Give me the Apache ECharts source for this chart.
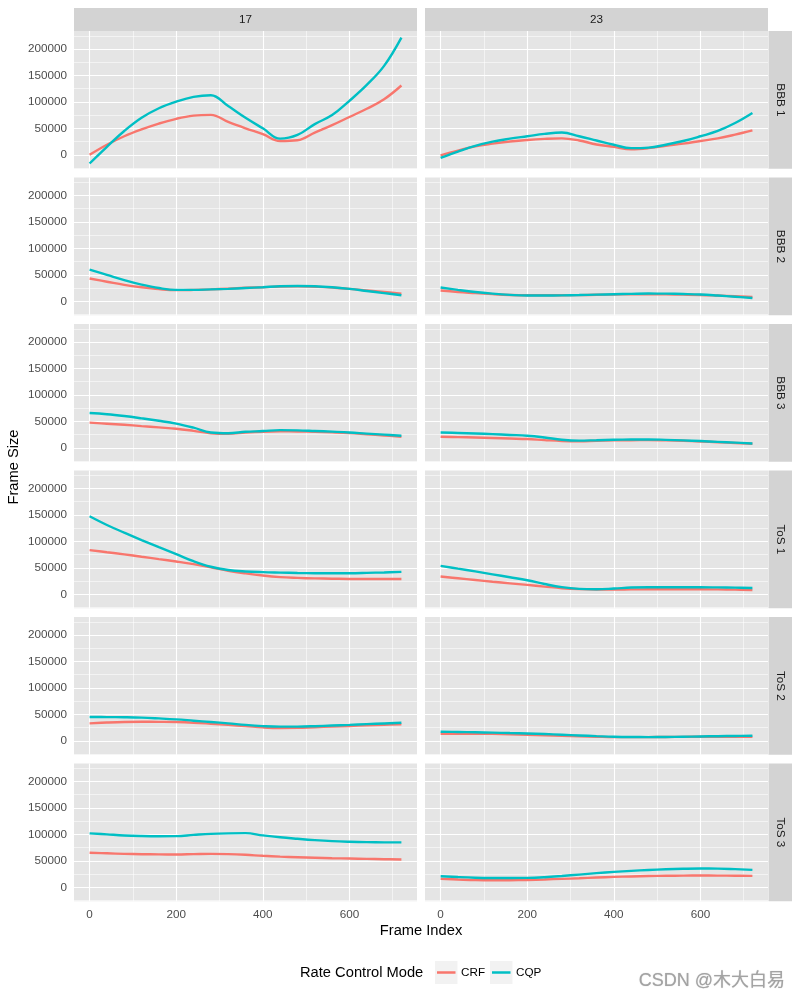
<!DOCTYPE html>
<html><head><meta charset="utf-8">
<script src="https://cdn.jsdelivr.net/npm/echarts@6/dist/echarts.min.js"></script>
<style>html,body{margin:0;padding:0;background:#fff}#c{width:800px;height:1000px}</style>
</head><body><div id="c"></div>
<script>
// ---- data ----
const frames = [0,40,80,120,160,200,240,280,320,360,400,440,480,520,560,600,640,680,720];
const columns = ['17','23'];
const rows = ['BBB 1','BBB 2','BBB 3','ToS 1','ToS 2','ToS 3'];
const modes = ['CRF','CQP'];
const yTicks = [0,50000,100000,150000,200000];
const yMinor = [-25000,25000,75000,125000,175000,225000];
const xTicks = [0,200,400,600];
const xMinor = [100,300,500,700];

const CRF_17_BBB1 = [0,19000,35000,48000,59000,68000,74000,75500,62000,50000,39000,26000,27500,42000,56000,71500,87000,105000,131000];
const CQP_17_BBB1 = [-16500,15000,45000,70000,88000,100500,109500,112500,92000,70000,50000,30500,37500,58000,75000,102000,132000,168000,221500];
const CRF_23_BBB1 = [-1000,8000,16000,21000,25000,28000,30000,31000,27000,19500,15000,10500,12500,17000,21000,26000,31000,38000,46000];
const CQP_23_BBB1 = [-6000,6000,17000,25000,30500,35000,39500,42000,35000,27000,19000,12500,13500,19000,26000,35000,45000,60000,79000];

const CRF_17_BBB2 = [43000,37000,31000,26500,23000,21000,21500,22500,24000,25500,26600,28000,28500,27500,26000,23400,20500,17500,14500];
const CQP_17_BBB2 = [60000,50000,40000,31500,25000,21500,21500,22500,23500,25000,26600,28500,29000,28500,26500,23400,19500,15500,11500];
const CRF_23_BBB2 = [20300,17500,15500,13500,12000,11400,11400,11400,11700,12300,12700,13200,13300,13000,12600,12000,10800,9500,8200];
const CQP_23_BBB2 = [26000,21500,17500,14500,12200,10800,10900,11200,11800,12600,13300,14000,14600,14400,13700,12700,10800,8600,6300];

const CRF_17_BBB3 = [47500,45500,43500,41000,38500,36000,32000,27500,26500,28800,30400,31000,30800,30200,29200,27800,25500,23200,20900];
const CQP_17_BBB3 = [65800,63500,60000,55700,51000,45600,38000,29000,27500,30300,31600,33300,33000,31800,30500,29000,26800,24800,22800];
const CRF_23_BBB3 = [20900,20200,19400,18500,17500,16500,14500,12800,12300,13200,14000,14300,14500,14000,13200,12000,10500,9000,7600];
const CQP_23_BBB3 = [29000,28000,27000,25800,24300,22800,19500,15200,13500,14300,15200,15600,15800,15000,14000,12700,11200,9700,8200];

const CRF_17_ToS1 = [83500,79500,75500,71000,66500,62000,57000,51000,44500,39500,35400,32500,31000,30000,29500,29000,29000,29000,29000];
const CQP_17_ToS1 = [147500,131000,116500,102500,89000,76000,62500,52000,46000,43200,41800,41000,40300,39900,39800,39900,40500,41300,42400];
const CRF_23_ToS1 = [33500,30200,27000,23800,20700,17700,14500,11500,9800,9000,8900,9200,9400,9500,9500,9500,9200,8800,8200];
const CQP_23_ToS1 = [53800,48500,43200,37700,32200,26600,19500,13500,10200,9400,10800,12700,13300,13300,13300,13300,13000,12600,12000];

const CRF_17_ToS2 = [33000,34500,35600,36000,35800,35400,34200,32200,30000,27800,25300,24200,24500,25700,26800,28000,29200,30200,31000];
const CQP_17_ToS2 = [45000,44800,44500,43800,42300,40500,38000,35500,33000,30000,27800,26700,26800,27600,28800,30000,31500,32800,34200];
const CRF_23_ToS2 = [13300,13400,13400,13000,12300,11400,10400,9400,8500,7700,7000,6900,7000,7200,7400,7600,7600,7600,7600];
const CQP_23_ToS2 = [17100,16700,16100,15400,14600,13900,12700,11400,10100,8800,7600,7100,7000,7200,7700,8200,8700,9100,9500];

const CRF_17_ToS3 = [65200,64200,63200,62500,62200,62000,62600,63200,62700,61400,59500,58000,56800,55800,55000,54400,53700,53100,52500];
const CQP_17_ToS3 = [102000,100000,98000,97000,96600,96800,99000,101000,102000,102300,98100,94500,91700,89200,87300,86100,85300,84900,84800];
const CRF_23_ToS3 = [15800,14700,13700,13300,13400,13900,14800,15900,17000,18400,19600,20500,21200,21700,22000,22200,22100,21800,21500];
const CQP_23_ToS3 = [20900,19300,18100,17600,17500,17700,19000,21300,24000,26700,29100,31000,32700,34000,34900,35400,35300,34300,32900];

const panelData = [
  [[CRF_17_BBB1, CQP_17_BBB1], [CRF_23_BBB1, CQP_23_BBB1]],
  [[CRF_17_BBB2, CQP_17_BBB2], [CRF_23_BBB2, CQP_23_BBB2]],
  [[CRF_17_BBB3, CQP_17_BBB3], [CRF_23_BBB3, CQP_23_BBB3]],
  [[CRF_17_ToS1, CQP_17_ToS1], [CRF_23_ToS1, CQP_23_ToS1]],
  [[CRF_17_ToS2, CQP_17_ToS2], [CRF_23_ToS2, CQP_23_ToS2]],
  [[CRF_17_ToS3, CQP_17_ToS3], [CRF_23_ToS3, CQP_23_ToS3]]
];

// ---- layout / style ----
const FONT = "'Liberation Sans', Arial, sans-serif";
const colors = ['#F8766D', '#00BFC4'];
const PANEL_BG = '#E5E5E5';
const STRIP_BG = '#D3D3D3';
const colLeft = [74, 425];
const panelW = 343;
const rowTop0 = 31, rowStep = 146.5, panelH = 137.8;

const grids = [], xAxes = [], yAxes = [], series = [], graphics = [];
const zip = (xs, ys) => xs.map((x, i) => [x, ys[i]]);

const gridMarks = [].concat(
  yTicks.map(v => ({ yAxis: v, lineStyle: { color: '#fff', width: 1.1, type: 'solid' } })),
  yMinor.map(v => ({ yAxis: v, lineStyle: { color: '#fff', width: 0.55, type: 'solid' } })),
  xTicks.map(v => ({ xAxis: v, lineStyle: { color: '#fff', width: 1.1, type: 'solid' } })),
  xMinor.map(v => ({ xAxis: v, lineStyle: { color: '#fff', width: 0.55, type: 'solid' } }))
);

let gi = 0;
rows.forEach((rowName, r) => {
  columns.forEach((colName, c) => {
    const top = rowTop0 + r * rowStep;
    grids.push({ left: colLeft[c], top: top, width: panelW, height: panelH,
      show: true, backgroundColor: PANEL_BG, borderWidth: 0, containLabel: false });
    const bottomRow = r === rows.length - 1;
    xAxes.push({ gridIndex: gi, type: 'value', min: -36, max: 756,
      splitLine: { show: false }, axisLine: { show: false },
      axisTick: { show: bottomRow, customValues: xTicks, length: 4, lineStyle: { color: '#333', width: 1 } },
      axisLabel: { show: bottomRow, customValues: xTicks, color: '#4D4D4D', fontSize: 11.7, fontFamily: FONT, margin: 7,
        formatter: v => String(v) } });
    yAxes.push({ gridIndex: gi, type: 'value', min: -26500, max: 234000,
      splitLine: { show: false }, axisLine: { show: false },
      axisTick: { show: c === 0, customValues: yTicks, length: 4, lineStyle: { color: '#333', width: 1 } },
      axisLabel: { show: c === 0, customValues: yTicks, color: '#4D4D4D', fontSize: 11.7, fontFamily: FONT, margin: 7,
        formatter: v => String(v) } });
    series.push({ type: 'line', name: 'grid' + gi, xAxisIndex: gi, yAxisIndex: gi, data: [], z: 1,
      silent: true, showSymbol: false,
      markLine: { z: 1, silent: true, symbol: ['none', 'none'], label: { show: false }, animation: false,
        emphasis: { disabled: true }, data: gridMarks } });
    modes.forEach((m, k) => {
      series.push({ type: 'line', name: m, xAxisIndex: gi, yAxisIndex: gi, z: 10 + k,
        data: zip(frames, panelData[r][c][k]), smooth: 0.4, showSymbol: false, animation: false,
        lineStyle: { color: colors[k], width: 2.4 }, itemStyle: { color: colors[k] } });
    });
    // right strip
    if (c === 1) {
      graphics.push({ type: 'rect', shape: { x: 768.5, y: top, width: 23.5, height: panelH }, style: { fill: STRIP_BG }, z: 0 });
      graphics.push({ type: 'text', x: 780.5, y: top + panelH / 2, rotation: -Math.PI / 2,
        style: { text: rowName, x: 0, y: 0, align: 'center', verticalAlign: 'middle', fill: '#1A1A1A', font: '11.7px ' + FONT } });
    }
    gi++;
  });
});

// top strips
columns.forEach((colName, c) => {
  graphics.push({ type: 'rect', shape: { x: colLeft[c], y: 8, width: panelW, height: 23 }, style: { fill: STRIP_BG } });
  graphics.push({ type: 'text', style: { text: colName, x: colLeft[c] + panelW / 2, y: 19.8, align: 'center', verticalAlign: 'middle', fill: '#1A1A1A', font: '11.7px ' + FONT } });
});

// axis titles
graphics.push({ type: 'text', style: { text: 'Frame Index', x: 421, y: 931, align: 'center', verticalAlign: 'middle', fill: '#000', font: '14.7px ' + FONT } });
graphics.push({ type: 'text', x: 14, y: 467, rotation: Math.PI / 2,
  style: { text: 'Frame Size', x: 0, y: 0, align: 'center', verticalAlign: 'middle', fill: '#000', font: '14.7px ' + FONT } });

// legend
graphics.push({ type: 'text', style: { text: 'Rate Control Mode', x: 300, y: 972.5, align: 'left', verticalAlign: 'middle', fill: '#000', font: '14.7px ' + FONT } });
const keyX = [435, 490];
modes.forEach((m, k) => {
  graphics.push({ type: 'rect', shape: { x: keyX[k], y: 961, width: 22.5, height: 23 }, style: { fill: '#F2F2F2' } });
  graphics.push({ type: 'line', shape: { x1: keyX[k] + 2, y1: 972.5, x2: keyX[k] + 20.5, y2: 972.5 }, style: { stroke: colors[k], lineWidth: 2.5 } });
  graphics.push({ type: 'text', style: { text: m, x: keyX[k] + 26, y: 972.5, align: 'left', verticalAlign: 'middle', fill: '#000', font: '11.7px ' + FONT } });
});

// watermark
graphics.push({ type: 'text', style: { text: 'CSDN @木大白易', x: 785, y: 981, align: 'right', verticalAlign: 'middle',
  fill: '#A3A3A3', font: "18px 'Liberation Sans', 'Noto Sans CJK SC', sans-serif", textShadowColor: 'rgba(0,0,0,0.25)', textShadowBlur: 1 } });

const chart = echarts.init(document.getElementById('c'), null, { renderer: 'canvas' });
chart.setOption({
  backgroundColor: '#fff',
  animation: false,
  grid: grids,
  xAxis: xAxes,
  yAxis: yAxes,
  series: series,
  graphic: { elements: graphics }
});
</script>
</body></html>
